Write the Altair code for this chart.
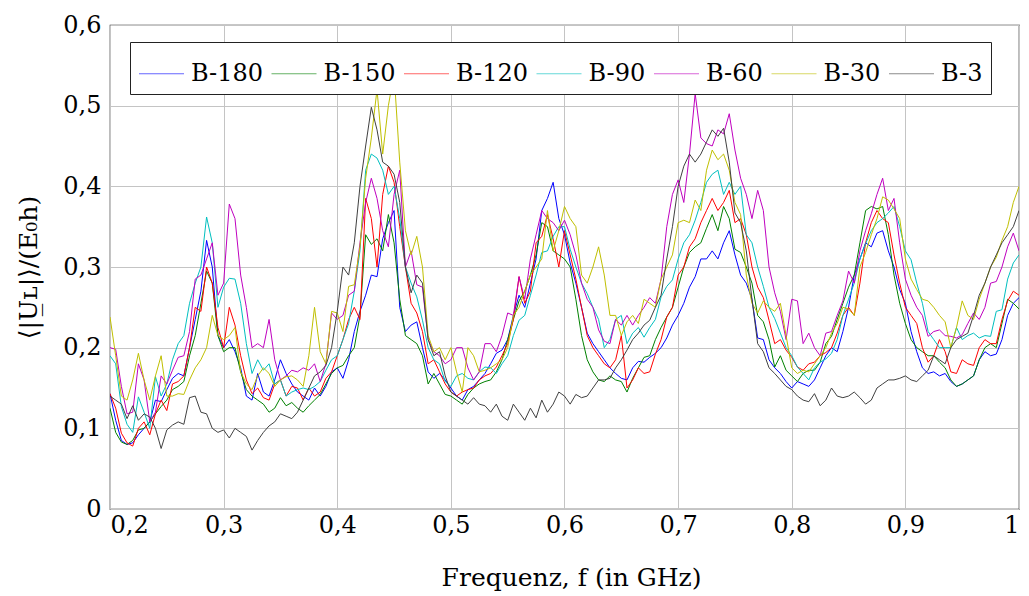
import altair as alt
import pandas as pd

# frequency grid (GHz), step 0.005 from 0.2 to 1.0
freq = [round(0.2 + 0.005 * i, 3) for i in range(161)]

series_names = ["B-180", "B-150", "B-120", "B-90", "B-60", "B-30", "B-3"]
series_colors = ["#0000ff", "#008000", "#ff0000", "#00bfbf", "#bf00bf", "#bfbf00", "#404040"]

b180 = [
    0.143, 0.110, 0.085, 0.080, 0.082, 0.092, 0.100, 0.108, 0.135, 0.133,
    0.148, 0.162, 0.168, 0.165, 0.200, 0.235, 0.270, 0.333, 0.300, 0.215,
    0.200, 0.210, 0.195, 0.175, 0.140, 0.135, 0.168, 0.145, 0.140, 0.160,
    0.185, 0.168, 0.155, 0.145, 0.140, 0.135, 0.150, 0.140, 0.152, 0.170,
    0.175, 0.162, 0.185, 0.220, 0.245, 0.265, 0.290, 0.288, 0.335, 0.355,
    0.370, 0.250, 0.220, 0.228, 0.232, 0.200, 0.170, 0.162, 0.168, 0.160,
    0.150, 0.140, 0.135, 0.148, 0.152, 0.160, 0.168, 0.180, 0.193, 0.197,
    0.210, 0.240, 0.265, 0.250, 0.280, 0.310, 0.370, 0.385, 0.405, 0.360,
    0.340, 0.305, 0.280, 0.250, 0.218, 0.205, 0.195, 0.185, 0.175, 0.168,
    0.162, 0.160, 0.175, 0.183, 0.182, 0.188, 0.193, 0.200, 0.212, 0.228,
    0.240, 0.255, 0.275, 0.288, 0.310, 0.310, 0.320, 0.310, 0.330, 0.345,
    0.315, 0.290, 0.280, 0.260, 0.212, 0.210, 0.185, 0.175, 0.168, 0.158,
    0.150, 0.158, 0.155, 0.152, 0.160, 0.175, 0.190, 0.200, 0.195, 0.220,
    0.250, 0.290, 0.310, 0.330, 0.325, 0.342, 0.345, 0.320, 0.300, 0.272,
    0.255, 0.220, 0.195, 0.175, 0.168, 0.170, 0.165, 0.168, 0.158, 0.152,
    0.155, 0.160, 0.165, 0.185, 0.195, 0.190, 0.192, 0.210, 0.240, 0.255,
    0.262,
]

b150 = [
    0.125, 0.095, 0.083, 0.080, 0.085, 0.098, 0.100, 0.108, 0.118, 0.127,
    0.135, 0.148, 0.152, 0.158, 0.190, 0.215, 0.255, 0.295, 0.280, 0.215,
    0.195, 0.200, 0.200, 0.170, 0.148, 0.140, 0.135, 0.130, 0.120, 0.125,
    0.138, 0.128, 0.132, 0.125, 0.120, 0.128, 0.135, 0.142, 0.155, 0.168,
    0.175, 0.178, 0.190, 0.200, 0.240, 0.340, 0.328, 0.335, 0.320, 0.365,
    0.330, 0.260, 0.215, 0.210, 0.205, 0.190, 0.155, 0.168, 0.155, 0.142,
    0.140, 0.135, 0.130, 0.142, 0.150, 0.155, 0.158, 0.160, 0.170, 0.185,
    0.210, 0.235, 0.258, 0.270, 0.290, 0.315, 0.355, 0.350, 0.320, 0.315,
    0.310, 0.300, 0.260, 0.215, 0.185, 0.170, 0.160, 0.158, 0.165, 0.160,
    0.158, 0.145, 0.162, 0.175, 0.188, 0.190, 0.210, 0.225, 0.238, 0.250,
    0.275, 0.300, 0.318, 0.325, 0.330, 0.348, 0.365, 0.345, 0.375, 0.360,
    0.322, 0.318, 0.300, 0.280, 0.240, 0.232, 0.210, 0.176, 0.190, 0.172,
    0.165, 0.158, 0.168, 0.172, 0.172, 0.182, 0.205, 0.214, 0.235, 0.255,
    0.275, 0.290, 0.330, 0.370, 0.375, 0.372, 0.375, 0.340, 0.290, 0.255,
    0.230, 0.210, 0.200, 0.195, 0.190, 0.190, 0.182, 0.175, 0.160, 0.152,
    0.155, 0.160, 0.165, 0.185, 0.200, 0.205, 0.200, 0.230, 0.260, 0.255,
    0.248,
]

b120 = [
    0.143, 0.125, 0.094, 0.082, 0.078, 0.100, 0.108, 0.092, 0.118, 0.135,
    0.122, 0.155, 0.158, 0.165, 0.200, 0.250, 0.245, 0.300, 0.280, 0.225,
    0.200, 0.250, 0.228, 0.190, 0.160, 0.143, 0.150, 0.138, 0.135, 0.155,
    0.160, 0.140, 0.152, 0.150, 0.135, 0.150, 0.140, 0.145, 0.162, 0.170,
    0.190, 0.210, 0.235, 0.250, 0.235, 0.385, 0.360, 0.300, 0.390, 0.425,
    0.405, 0.350, 0.300, 0.255, 0.243, 0.220, 0.180, 0.185, 0.170, 0.155,
    0.145, 0.140, 0.145, 0.148, 0.150, 0.160, 0.165, 0.168, 0.176, 0.190,
    0.205, 0.235, 0.288, 0.255, 0.270, 0.330, 0.338, 0.365, 0.335, 0.300,
    0.345, 0.315, 0.285, 0.250, 0.215, 0.200, 0.190, 0.180, 0.175, 0.185,
    0.215, 0.150, 0.160, 0.175, 0.168, 0.170, 0.192, 0.210, 0.238, 0.250,
    0.290, 0.300, 0.325, 0.335, 0.355, 0.370, 0.385, 0.370, 0.380, 0.395,
    0.355, 0.360, 0.340, 0.300, 0.275, 0.262, 0.234, 0.205, 0.210, 0.197,
    0.188, 0.176, 0.172, 0.180, 0.182, 0.190, 0.194, 0.200, 0.218, 0.240,
    0.250, 0.240, 0.280, 0.330, 0.355, 0.370, 0.360, 0.355, 0.315, 0.280,
    0.250, 0.240, 0.230, 0.200, 0.182, 0.190, 0.210, 0.195, 0.170, 0.168,
    0.185, 0.180, 0.178, 0.200, 0.210, 0.205, 0.205, 0.235, 0.258, 0.270,
    0.265,
]

b90 = [
    0.190, 0.180, 0.127, 0.105, 0.095, 0.139, 0.120, 0.100, 0.164, 0.140,
    0.155, 0.185, 0.205, 0.215, 0.255, 0.280, 0.300, 0.362, 0.330, 0.250,
    0.275, 0.286, 0.285, 0.255, 0.205, 0.168, 0.185, 0.172, 0.180, 0.155,
    0.160, 0.140, 0.145, 0.148, 0.150, 0.148, 0.152, 0.158, 0.172, 0.185,
    0.190, 0.210, 0.230, 0.270, 0.320, 0.420, 0.440, 0.435, 0.420, 0.390,
    0.400, 0.360, 0.300, 0.280, 0.263, 0.234, 0.200, 0.185, 0.180, 0.158,
    0.152, 0.165, 0.168, 0.162, 0.160, 0.170, 0.176, 0.175, 0.168, 0.180,
    0.190, 0.215, 0.234, 0.240, 0.265, 0.290, 0.318, 0.320, 0.338, 0.350,
    0.350, 0.322, 0.300, 0.280, 0.267, 0.250, 0.235, 0.200, 0.210, 0.235,
    0.240, 0.205, 0.218, 0.225, 0.213, 0.225, 0.235, 0.263, 0.276, 0.284,
    0.310, 0.330, 0.340, 0.358, 0.380, 0.405, 0.415, 0.420, 0.390, 0.405,
    0.390, 0.400, 0.340, 0.330, 0.300, 0.276, 0.250, 0.236, 0.218, 0.200,
    0.190, 0.176, 0.168, 0.160, 0.175, 0.182, 0.186, 0.193, 0.210, 0.240,
    0.260, 0.280, 0.310, 0.329, 0.345, 0.355, 0.360, 0.367, 0.375, 0.350,
    0.320, 0.309, 0.280, 0.255, 0.220, 0.210, 0.200, 0.200, 0.200, 0.225,
    0.210, 0.215, 0.218, 0.212, 0.215, 0.214, 0.245, 0.247, 0.285, 0.305,
    0.315,
]

b60 = [
    0.200, 0.198, 0.152, 0.118, 0.120, 0.180, 0.160, 0.108, 0.120, 0.165,
    0.155, 0.172, 0.188, 0.190, 0.220, 0.285, 0.290, 0.310, 0.330, 0.265,
    0.280, 0.378, 0.360, 0.290, 0.250, 0.200, 0.205, 0.200, 0.235, 0.185,
    0.160, 0.165, 0.172, 0.170, 0.175, 0.172, 0.180, 0.158, 0.180, 0.243,
    0.235, 0.240, 0.265, 0.270, 0.330, 0.380, 0.410, 0.385, 0.345, 0.325,
    0.390, 0.420, 0.300, 0.320, 0.278, 0.275, 0.210, 0.195, 0.190, 0.180,
    0.185, 0.200, 0.200, 0.175, 0.160, 0.170, 0.205, 0.205, 0.195, 0.215,
    0.243, 0.240, 0.288, 0.260, 0.310, 0.340, 0.370, 0.360, 0.355, 0.345,
    0.358, 0.340, 0.315, 0.280, 0.260, 0.250, 0.222, 0.208, 0.205, 0.235,
    0.228, 0.240, 0.228, 0.240, 0.250, 0.262, 0.255, 0.285, 0.350, 0.390,
    0.408, 0.380, 0.440, 0.515, 0.460, 0.453, 0.450, 0.470, 0.465, 0.490,
    0.445, 0.410, 0.390, 0.360, 0.395, 0.370, 0.300, 0.268, 0.245, 0.210,
    0.260, 0.258, 0.205, 0.218, 0.200, 0.190, 0.218, 0.220, 0.240, 0.258,
    0.295, 0.280, 0.320, 0.345, 0.366, 0.390, 0.410, 0.370, 0.385, 0.330,
    0.285, 0.265, 0.250, 0.240, 0.214, 0.220, 0.222, 0.215, 0.214, 0.212,
    0.216, 0.230, 0.243, 0.235, 0.250, 0.280, 0.282, 0.300, 0.325, 0.342,
    0.320,
]

b30 = [
    0.238, 0.190, 0.140, 0.135, 0.160, 0.193, 0.160, 0.135, 0.165, 0.190,
    0.140, 0.140, 0.143, 0.142, 0.160, 0.175, 0.185, 0.200, 0.240, 0.215,
    0.210, 0.215, 0.225, 0.170, 0.155, 0.148, 0.165, 0.175, 0.168, 0.152,
    0.160, 0.164, 0.165, 0.160, 0.152, 0.190, 0.250, 0.195, 0.180, 0.245,
    0.243, 0.220, 0.276, 0.278, 0.325, 0.410, 0.460, 0.520, 0.440, 0.500,
    0.540, 0.430, 0.345, 0.315, 0.338, 0.300, 0.215, 0.195, 0.200, 0.185,
    0.200, 0.170, 0.145, 0.200, 0.190, 0.170, 0.172, 0.175, 0.180, 0.185,
    0.200, 0.240, 0.250, 0.270, 0.290, 0.300, 0.310, 0.370, 0.320, 0.345,
    0.375, 0.360, 0.350, 0.290, 0.280, 0.300, 0.325, 0.290, 0.240, 0.240,
    0.215, 0.232, 0.240, 0.230, 0.260, 0.255, 0.250, 0.285, 0.300, 0.315,
    0.355, 0.358, 0.355, 0.383, 0.370, 0.420, 0.445, 0.433, 0.440, 0.420,
    0.380, 0.365, 0.290, 0.255, 0.243, 0.258, 0.250, 0.245, 0.255, 0.215,
    0.175, 0.168, 0.172, 0.170, 0.180, 0.190, 0.200, 0.218, 0.230, 0.250,
    0.248, 0.240, 0.300, 0.318, 0.340, 0.360, 0.387, 0.383, 0.372, 0.360,
    0.310, 0.285, 0.272, 0.260, 0.258, 0.250, 0.240, 0.232, 0.200, 0.225,
    0.258, 0.240, 0.235, 0.260, 0.280, 0.300, 0.312, 0.333, 0.350, 0.380,
    0.400,
]

b3 = [
    0.140, 0.135, 0.130, 0.112, 0.128, 0.110, 0.118, 0.114, 0.100, 0.075,
    0.098, 0.104, 0.108, 0.105, 0.138, 0.140, 0.120, 0.118, 0.100, 0.095,
    0.098, 0.088, 0.100, 0.095, 0.090, 0.073, 0.085, 0.095, 0.103, 0.108,
    0.118, 0.115, 0.112, 0.120, 0.135, 0.150, 0.165, 0.170, 0.178, 0.200,
    0.245, 0.300, 0.290, 0.330, 0.400, 0.450, 0.498, 0.470, 0.430, 0.425,
    0.415, 0.380, 0.300, 0.268, 0.290, 0.280, 0.210, 0.190, 0.195, 0.165,
    0.145, 0.140, 0.135, 0.130, 0.138, 0.130, 0.128, 0.120, 0.130, 0.115,
    0.110, 0.130, 0.120, 0.110, 0.125, 0.113, 0.135, 0.120, 0.130, 0.145,
    0.140, 0.130, 0.142, 0.138, 0.140, 0.150, 0.160, 0.160, 0.162, 0.175,
    0.185, 0.197, 0.210, 0.218, 0.228, 0.234, 0.250, 0.265, 0.310, 0.350,
    0.400, 0.425, 0.440, 0.430, 0.440, 0.455, 0.470, 0.462, 0.472, 0.430,
    0.367, 0.355, 0.320, 0.260, 0.205, 0.195, 0.175, 0.168, 0.160, 0.152,
    0.148, 0.140, 0.135, 0.133, 0.143, 0.128, 0.135, 0.150, 0.140, 0.138,
    0.140, 0.145, 0.138, 0.130, 0.135, 0.150, 0.155, 0.160, 0.160, 0.162,
    0.165, 0.160, 0.158, 0.165, 0.172, 0.190, 0.185, 0.180, 0.200, 0.210,
    0.214, 0.218, 0.240, 0.265, 0.280, 0.300, 0.315, 0.330, 0.340, 0.350,
    0.370,
]

all_values = [b180, b150, b120, b90, b60, b30, b3]

rows = []
for name, vals in zip(series_names, all_values):
    for f, v in zip(freq, vals):
        rows.append({"f": f, "v": v, "series": name})
df = pd.DataFrame(rows)

FONT = "DejaVu Serif, Liberation Serif, serif"

chart = (
    alt.Chart(df)
    .mark_line(strokeWidth=1, clip=True)
    .encode(
        x=alt.X(
            "f:Q",
            scale=alt.Scale(domain=[0.2, 1.0], nice=False, zero=False),
            axis=alt.Axis(
                values=[0.2, 0.3, 0.4, 0.5, 0.6, 0.7, 0.8, 0.9, 1.0],
                labelExpr="datum.value >= 0.999 ? '1' : replace(format(datum.value, '.1f'), '.', ',')",
                title="Frequenz, f (in GHz)",
                titleX=461,
                titleY=68,
                titleBaseline="middle",
                labelPadding=4,
            ),
        ),
        y=alt.Y(
            "v:Q",
            scale=alt.Scale(domain=[0, 0.6], nice=False),
            axis=alt.Axis(
                values=[0, 0.1, 0.2, 0.3, 0.4, 0.5, 0.6],
                labelExpr="datum.value == 0 ? '0' : replace(format(datum.value, '.1f'), '.', ',')",
                title="⟨|U̲ʟ|⟩/(E₀h)",
                titleX=-82,
                titleY=242,
                titleBaseline="middle",
                titleAlign="center",
                labelPadding=9,
            ),
        ),
        color=alt.Color(
            "series:N",
            scale=alt.Scale(domain=series_names, range=series_colors),
            sort=series_names,
            legend=alt.Legend(
                title=None,
                orient="none",
                legendX=20,
                legendY=17,
                direction="horizontal",
                columns=7,
                symbolType="stroke",
                symbolSize=2025,
                symbolStrokeWidth=1.2,
                symbolOpacity=0.6,
                labelOffset=6,
                columnPadding=5.5,
                padding=8,
                labelFont=FONT,
                labelFontSize=24,
                labelColor="black",
                fillColor="white",
                strokeColor="#222222",
            ),
        ),
    )
    .properties(
        width=909,
        height=484,
        autosize=alt.AutoSizeParams(type="none"),
        padding={"left": 110, "top": 25, "right": 10, "bottom": 87},
    )
    .configure_view(stroke="#222222", strokeWidth=1.2)
    .configure_axis(
        grid=True,
        gridColor="#c4c4c4",
        gridWidth=1,
        domain=False,
        ticks=False,
        labelFont=FONT,
        labelFontSize=24,
        labelColor="black",
        titleFont=FONT,
        titleFontSize=25,
        titleFontWeight="normal",
        titleColor="black",
    )
)

chart.save("out.html", embed_options={"renderer": "svg", "actions": False})
